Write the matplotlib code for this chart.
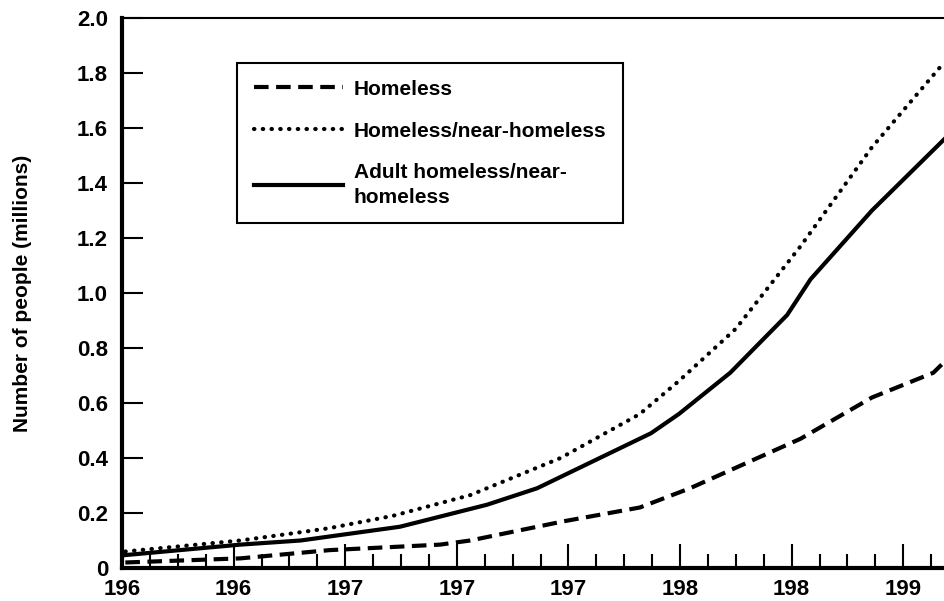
import matplotlib
matplotlib.use("Agg")
import matplotlib.pyplot as plt
from matplotlib.ticker import MultipleLocator

plt.rcParams['font.family'] = ['Liberation Sans', 'DejaVu Sans']

# tick labels as printed (years cut to three digits)
year_labels = ['196', '196', '197', '197', '197', '198', '198', '199']

# series, x in major-tick units
homeless_x = [0.03, 1.06, 1.86, 2.85, 3.12, 3.96, 4.64, 5.09, 6.08, 6.72, 7.27, 7.37]
homeless_y = [0.02, 0.035, 0.065, 0.085, 0.10, 0.17, 0.22, 0.29, 0.47, 0.62, 0.71, 0.75]

near_x = [0.03, 1.06, 1.6, 1.86, 2.43, 3.12, 3.93, 4.64, 4.99, 5.5, 6.08, 6.72, 7.37]
near_y = [0.06, 0.10, 0.13, 0.145, 0.19, 0.265, 0.40, 0.56, 0.68, 0.87, 1.17, 1.53, 1.84]

adult_x = [0.03, 1.06, 1.6, 2.49, 3.27, 3.72, 4.74, 4.99, 5.45, 5.96, 6.17, 6.72, 7.37]
adult_y = [0.047, 0.085, 0.10, 0.15, 0.23, 0.29, 0.49, 0.56, 0.71, 0.92, 1.05, 1.30, 1.56]

fig = plt.figure(figsize=(9.44, 6.01), dpi=100)
ax = fig.add_axes([122 / 944, 1 - 568 / 601, 1 - 122 / 944, 550 / 601])

ax.plot(homeless_x, homeless_y, color='black', lw=3,
        linestyle=(0, (3.5, 1.8)), dash_capstyle='butt', label='Homeless')
ax.plot(near_x, near_y, color='black', lw=3,
        linestyle=(0, (0.1, 2)), dash_capstyle='round', label='Homeless/near-homeless')
ax.plot(adult_x, adult_y, color='black', lw=3,
        label='Adult homeless/near-\nhomeless')

ax.set_xlim(0, (944 - 122) / 111.6)
ax.set_ylim(0, 2.0)

ax.set_xticks(range(len(year_labels)))
ax.set_xticklabels(year_labels)
ax.xaxis.set_minor_locator(MultipleLocator(0.25))
ax.set_yticks([0, 0.2, 0.4, 0.6, 0.8, 1.0, 1.2, 1.4, 1.6, 1.8, 2.0])
ax.set_yticklabels(['0', '0.2', '0.4', '0.6', '0.8', '1.0', '1.2', '1.4', '1.6', '1.8', '2.0'])

ax.tick_params(axis='x', which='major', direction='in', length=17, width=1.5,
               pad=8, labelsize=16)
ax.tick_params(axis='x', which='minor', direction='in', length=10, width=1.5)
ax.tick_params(axis='y', direction='in', length=15, width=1.5, pad=10, labelsize=16)
for lbl in ax.get_xticklabels() + ax.get_yticklabels():
    lbl.set_fontweight('bold')

ax.spines['right'].set_visible(False)
ax.spines['left'].set_linewidth(3)
ax.spines['bottom'].set_linewidth(3)
ax.spines['top'].set_linewidth(1.5)

ax.set_ylabel('Number of people (millions)', fontsize=15, fontweight='bold')
ax.yaxis.set_label_coords(-90 / 822, 0.5)

leg = ax.legend(loc='upper left', bbox_to_anchor=(237 / 944, 1 - 63 / 601),
                bbox_transform=fig.transFigure, fancybox=False, framealpha=1,
                edgecolor='black', handlelength=4.3, handletextpad=0.5,
                borderpad=0.8, labelspacing=1.1,
                prop={'size': 15, 'weight': 'bold'}, borderaxespad=0)
leg.get_frame().set_linewidth(1.5)
leg.get_texts()[2].set_linespacing(1.35)

fig.savefig('out.png', dpi=100)
